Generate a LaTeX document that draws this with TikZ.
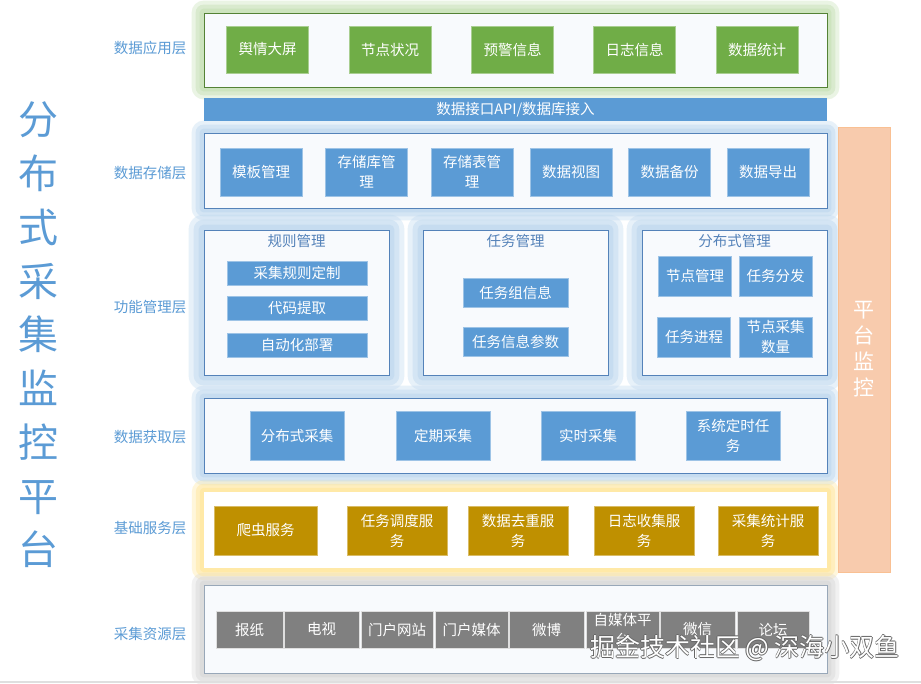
\documentclass[tikz,border=0pt]{standalone}
\usepackage{fontspec}
\setmainfont{Noto Sans CJK SC}
\usetikzlibrary{positioning,backgrounds}

\definecolor{appgreen}{RGB}{112,173,71}
\definecolor{itemblue}{RGB}{91,155,213}
\definecolor{servgold}{RGB}{191,144,0}
\definecolor{srcgray}{RGB}{128,128,128}
\definecolor{monpeach}{RGB}{248,203,173}
\definecolor{glowgreen}{RGB}{197,224,180}
\definecolor{glowblue}{RGB}{189,215,238}
\definecolor{glowyellow}{RGB}{255,230,153}
\definecolor{glowgray}{RGB}{215,215,215}
\definecolor{labelblue}{RGB}{91,155,213}
\definecolor{frameblue}{RGB}{84,130,185}
\definecolor{framegreen}{RGB}{84,130,53}
\definecolor{panelfill}{RGB}{248,250,253}

\tikzset{
  every node/.style={font=\fontsize{14.5}{20}\selectfont, inner sep=1pt},
  layerpanel/.style={fill=panelfill, draw=frameblue, line width=0.8},
  appbox/.style={fill=appgreen, draw=appgreen!60!white, text=white, minimum width=82, minimum height=47, align=center},
  bluebox/.style={fill=itemblue, draw=itemblue!60!white, text=white, align=center},
  servbox/.style={fill=servgold, draw=servgold!60!white, text=white, minimum width=100, minimum height=49, align=center},
  srcbox/.style={fill=srcgray, draw=white!75!gray, text=white, minimum height=37, align=center},
  layerlabel/.style={text=labelblue},
  paneltitle/.style={text=frameblue},
  wmark/.style={font=\fontsize{25}{25}\selectfont},
}

\begin{document}
\begin{tikzpicture}[x=1pt,y=1pt,yscale=-1]
\useasboundingbox (0,0) rectangle (921,684);

% big title on the left
\node[text=labelblue, font=\fontsize{40}{53.75}\selectfont, align=center] (title) at (38,335) {分\\布\\式\\采\\集\\监\\控\\平\\台};

% layer names
\node[layerlabel] (lbapp) at (150,48) {数据应用层};
\node[layerlabel] (lbstore) at (150,173) {数据存储层};
\node[layerlabel] (lbfunc) at (150,307) {功能管理层};
\node[layerlabel] (lbget) at (150,437) {数据获取层};
\node[layerlabel] (lbserv) at (150,528) {基础服务层};
\node[layerlabel] (lbsrc) at (150,634) {采集资源层};

% platform monitor column
\node[fill=monpeach, draw=monpeach!85!orange, minimum width=52, minimum height=445, text=white, align=center,
  font=\fontsize{21}{26}\selectfont] (monitor) at (864,349.5) {平\\台\\监\\控};

%% data application layer
\node[layerpanel, draw=framegreen, minimum width=623, minimum height=74] (applayer) at (515.5,50) {};
\node[appbox] (app1) at (267.5,49.5) {舆情大屏};
\node[appbox] (app2) at (390,49.5) {节点状况};
\node[appbox] (app3) at (512.5,49.5) {预警信息};
\node[appbox] (app4) at (634.5,49.5) {日志信息};
\node[appbox] (app5) at (757,49.5) {数据统计};

% interface bar
\node[fill=itemblue, text=white, minimum width=623, minimum height=23] (apibar) at (515.5,109.5) {数据接口API/数据库接入};

%% data storage layer
\node[layerpanel, minimum width=623, minimum height=75] (storelayer) at (515.5,170.5) {};
\foreach \n/\cx/\t in {1/261/模板管理, 2/366.5/{存储库管\\理}, 3/472/{存储表管\\理}, 4/571/数据视图, 5/669.5/数据备份, 6/768/数据导出}
  \node[bluebox, minimum width=82, minimum height=48] (store\n) at (\cx,172) {\t};

%% function management layer
\node[layerpanel, minimum width=185, minimum height=145] (rule) at (296.5,302.5) {};
\node[layerpanel, minimum width=185, minimum height=145] (task) at (515.5,302.5) {};
\node[layerpanel, minimum width=185, minimum height=145] (dist) at (734.5,302.5) {};
\node[paneltitle, below=3pt of rule.north] (ruletitle) {规则管理};
\node[paneltitle, below=3pt of task.north] (tasktitle) {任务管理};
\node[paneltitle, below=3pt of dist.north] (disttitle) {分布式管理};

\node[bluebox, minimum width=140, minimum height=24] (rule1) at (297,273) {采集规则定制};
\node[bluebox, minimum width=140, minimum height=24] (rule2) at (297,308) {代码提取};
\node[bluebox, minimum width=140, minimum height=24] (rule3) at (297,345) {自动化部署};

\node[bluebox, minimum width=105, minimum height=29] (task1) at (515.5,292.5) {任务组信息};
\node[bluebox, minimum width=105, minimum height=29] (task2) at (515.5,342) {任务信息参数};

\node[bluebox, minimum width=73, minimum height=40] (dist1) at (695,276) {节点管理};
\node[bluebox, minimum width=73, minimum height=40] (dist2) at (775.5,276) {任务分发};
\node[bluebox, minimum width=73, minimum height=40] (dist3) at (694,337) {任务进程};
\node[bluebox, minimum width=73, minimum height=40] (dist4) at (775.5,337) {节点采集\\数量};

%% data acquisition layer
\node[layerpanel, minimum width=623, minimum height=75] (getlayer) at (515.5,435.5) {};
\foreach \n/\cx/\t in {1/297/分布式采集, 2/443/定期采集, 3/588/实时采集, 4/733/{系统定时任\\务}}
  \node[bluebox, minimum width=94, minimum height=49] (get\n) at (\cx,435.5) {\t};

%% basic service layer
\node[fill=white, minimum width=623, minimum height=76] (servlayer) at (515.5,530) {};
\node[servbox, minimum width=103] (serv1) at (265.5,530.5) {爬虫服务};
\node[servbox] (serv2) at (397,530.5) {任务调度服\\务};
\node[servbox] (serv3) at (518,530.5) {数据去重服\\务};
\node[servbox] (serv4) at (644,530.5) {日志收集服\\务};
\node[servbox] (serv5) at (768,530.5) {采集统计服\\务};

%% collection resource layer
\node[layerpanel, draw=frameblue!45!gray!70!white, minimum width=623, minimum height=88] (srclayer) at (515.5,629) {};
\foreach \n/\cx/\w/\t in {1/249.5/67/报纸, 2/321.5/75/电视, 3/397/72/门户网站, 4/471.5/73/门户媒体,
    5/546.5/75/微博, 6/622.5/73/{自媒体平\\台}, 7/697.5/75/微信, 8/773/72/论坛}
  \node[srcbox, minimum width=\w] (src\n) at (\cx,629.5) {\t};

% white page and soft glows behind the layers
\begin{scope}[on background layer]
  \fill[white] (0,0) rectangle (921,684);
  \foreach \g/\o in {12/0.35,8/0.45,4/0.6} {
    \fill[glowgreen, opacity=\o, rounded corners=\g] ([shift={(-\g,-\g)}]applayer.north west) rectangle ([shift={(\g,\g)}]applayer.south east);
    \fill[glowblue, opacity=\o, rounded corners=\g] ([shift={(-\g,-\g)}]storelayer.north west) rectangle ([shift={(\g,\g)}]storelayer.south east);
    \fill[glowblue, opacity=\o, rounded corners=\g] ([shift={(-\g,-\g)}]getlayer.north west) rectangle ([shift={(\g,\g)}]getlayer.south east);
    \fill[glowyellow, opacity=\o, rounded corners=\g] ([shift={(-\g,-\g)}]servlayer.north west) rectangle ([shift={(\g,\g)}]servlayer.south east);
    \fill[glowgray, opacity=\o, rounded corners=\g] ([shift={(-\g,-\g)}]srclayer.north west) rectangle ([shift={(\g,\g)}]srclayer.south east);
  }
  \foreach \g/\o in {15/0.35,10/0.45,5/0.6} {
    \fill[glowblue, opacity=\o, rounded corners=\g] ([shift={(-\g,-\g)}]rule.north west) rectangle ([shift={(\g,\g)}]rule.south east);
    \fill[glowblue, opacity=\o, rounded corners=\g] ([shift={(-\g,-\g)}]task.north west) rectangle ([shift={(\g,\g)}]task.south east);
    \fill[glowblue, opacity=\o, rounded corners=\g] ([shift={(-\g,-\g)}]dist.north west) rectangle ([shift={(\g,\g)}]dist.south east);
  }
\end{scope}

% bottom edge
\draw[gray!25, line width=2] (0,682) -- (921,682);

% watermark
\foreach \dx/\dy in {-0.9/0, 0.9/0, 0/-0.9, 0/0.9}
  \node[wmark, text=black!60, xshift=\dx, yshift=\dy] at (745,648) {掘金技术社区 @ 深海小双鱼};
\node[wmark, text=white] (wm) at (745,648) {掘金技术社区 @ 深海小双鱼};

\end{tikzpicture}
\end{document}
